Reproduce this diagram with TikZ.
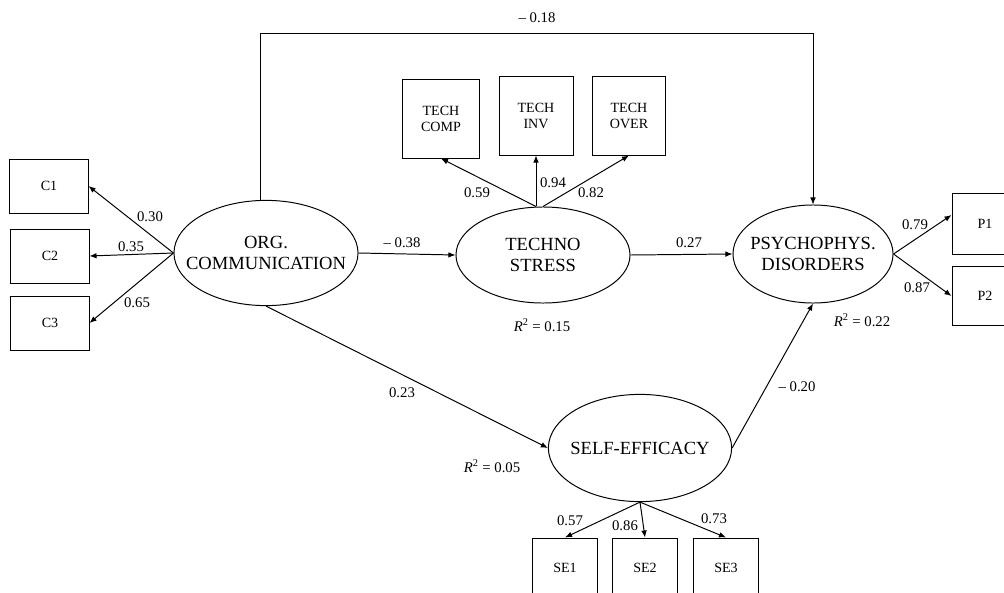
\documentclass[tikz,border=0pt]{standalone}
\usepackage{fontspec}
\setmainfont{Liberation Serif}
\usetikzlibrary{shapes.geometric, arrows.meta}

\tikzset{
  latent/.style={draw, ellipse, inner sep=0pt, line width=0.7pt,
    label={[align=center, font=\fontsize{13.2}{14.4}\selectfont]center:#1}},
  manifest/.style={draw, rectangle, inner sep=0pt, line width=0.7pt, align=center, font=\fontsize{10}{11.6}\selectfont},
  load/.style={line width=0.7pt, -{Latex[length=5pt, width=4pt]}},
  wt/.style={inner sep=0pt, font=\fontsize{10.5}{12}\selectfont},
}

\begin{document}
\begin{tikzpicture}[x=0.025cm, y=-0.025cm]
            \useasboundingbox (0,0) rectangle (1004,592);
            \fill[white] (0,0) rectangle (1004,592);
            \clip (0,0) rectangle (1004,592);

            % latent variables
            \node[latent={ORG.\\COMMUNICATION}, minimum width=4.6cm, minimum height=2.63cm] (org) at (266,253) {};
            \node[latent={TECHNO\\STRESS}, minimum width=4.35cm, minimum height=2.4cm] (techno) at (543,255) {};
            \node[latent={PSYCHOPHYS.\\DISORDERS}, minimum width=4cm, minimum height=2.45cm] (psych) at (813,254) {};
            \node[latent={SELF-EFFICACY}, minimum width=4.58cm, minimum height=2.68cm] (self) at (640,448) {};

            % indicators
            \node[manifest, minimum width=1.95cm, minimum height=1.35cm] (c1) at (49,186) {C1};
            \node[manifest, minimum width=1.95cm, minimum height=1.35cm] (c2) at (50,256) {C2};
            \node[manifest, minimum width=1.95cm, minimum height=1.35cm] (c3) at (50,323) {C3};
            \node[manifest, minimum width=1.93cm, minimum height=1.95cm] (comp) at (441,119) {TECH\\COMP};
            \node[manifest, minimum width=1.85cm, minimum height=1.95cm] (inv) at (536,116) {TECH\\INV};
            \node[manifest, minimum width=1.83cm, minimum height=1.95cm] (over) at (629,116) {TECH\\OVER};
            \node[manifest, minimum width=1.65cm, minimum height=1.52cm] (p1) at (985,224) {P1};
            \node[manifest, minimum width=1.65cm, minimum height=1.48cm] (p2) at (985,296) {P2};
            \node[manifest, minimum width=1.63cm, minimum height=1.5cm] (se1) at (565,568) {SE1};
            \node[manifest, minimum width=1.63cm, minimum height=1.5cm] (se2) at (645,568) {SE2};
            \node[manifest, minimum width=1.63cm, minimum height=1.5cm] (se3) at (726,568) {SE3};

            % loadings
            \draw[load] (org.west) -- (c1.east);
            \draw[load] (org.west) -- (c2.east);
            \draw[load] (org.west) -- (c3.east);
            \draw[load] (inv.south |- techno.north) -- (comp.south);
            \draw[load] (inv.south |- techno.north) -- (inv.south);
            \draw[load] (techno.north) -- (over.south);
            \draw[load] (psych.east) -- (p1.165);
            \draw[load] (psych.east) -- (p2.west);
            \draw[load] (self.south) -- (se1.north);
            \draw[load] (self.south) -- (se2.north);
            \draw[load] (self.south) -- (se3.north);

            % structural paths
            \coordinate (tl) at (260,33);
            \draw[load, line width=0.5pt] (tl |- org.north) -- (tl) -| (psych.north);
            \draw[load] (org.east) -- (techno.west);
            \draw[load] (techno.east) -- (psych.west);
            \draw[load] (org.south) -- (self.west);
            \draw[load] (self.east) -- (psych.south);

            % coefficients
            \node[wt] (w18) at (537,18) {-- 0.18};
            \node[wt] (w30) at (150,217) {0.30};
            \node[wt] (w35) at (131,247) {0.35};
            \node[wt] (w65) at (137,303) {0.65};
            \node[wt] (w38) at (402,243) {-- 0.38};
            \node[wt] (w59) at (477,193) {0.59};
            \node[wt] (w94) at (553,183) {0.94};
            \node[wt] (w82) at (591,193) {0.82};
            \node[wt] (w27) at (689,243) {0.27};
            \node[wt] (w79) at (915,225) {0.79};
            \node[wt] (w87) at (917,288) {0.87};
            \node[wt] (w23) at (402,393) {0.23};
            \node[wt] (w20) at (797,387) {-- 0.20};
            \node[wt] (w57) at (570,521) {0.57};
            \node[wt] (w86) at (625,526) {0.86};
            \node[wt] (w73) at (714,519) {0.73};
            \node[wt] (r15) at (542,325) {\textit{R}\textsuperscript{2} = 0.15};
            \node[wt] (r22) at (862,320) {\textit{R}\textsuperscript{2} = 0.22};
            \node[wt] (r05) at (492,466) {\textit{R}\textsuperscript{2} = 0.05};
        \end{tikzpicture}
\end{document}
